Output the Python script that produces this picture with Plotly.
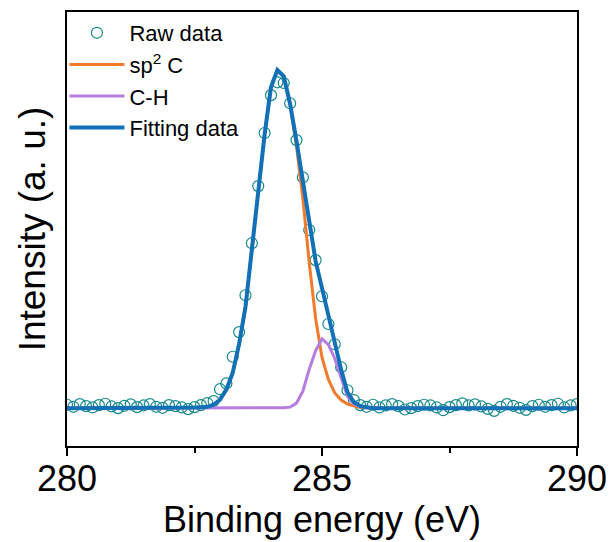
import numpy as np
import plotly.graph_objects as go

# Binding energy grid (eV), 0.125 eV step
energy = np.round(np.arange(280.0, 290.0001, 0.125), 3)

raw_data = [
    0.010, 0.004, 0.012, 0.006, 0.002, 0.009, 0.013, 0.005, 0.000, 0.007,
    0.011, 0.003, 0.008, 0.012, 0.004, 0.001, 0.009, 0.006, 0.002, -0.003,
    0.003, 0.009, 0.015, 0.021, 0.056, 0.073, 0.152, 0.225, 0.334, 0.488,
    0.657, 0.814, 0.926, 0.964, 0.962, 0.902, 0.793, 0.683, 0.527, 0.438,
    0.331, 0.249, 0.189, 0.121, 0.053, 0.024, 0.009, 0.004, 0.010, 0.002,
    0.008, 0.012, 0.006, -0.004, 0.000, 0.006, 0.010, 0.008, 0.002, -0.006,
    0.003, 0.009, 0.014, 0.008, 0.011, 0.005, -0.002, -0.008, 0.004, 0.012,
    0.007, 0.001, -0.005, 0.006, 0.010, 0.004, 0.009, 0.013, 0.002, 0.008,
    0.012,
]

sp2_c = [
    0, 0, 0, 0, 0, 0, 0, 0, 0, 0,
    0, 0, 0, 0, 0, 0, 0, 0, 0, 0,
    0.002, 0.003, 0.004, 0.010, 0.025, 0.055, 0.105, 0.190, 0.300, 0.470,
    0.650, 0.810, 0.950, 1.000, 0.981, 0.897, 0.775, 0.620, 0.430, 0.265,
    0.150, 0.085, 0.045, 0.024, 0.012, 0.006, 0.002, 0.001, 0, 0,
    0, 0, 0, 0, 0, 0, 0, 0, 0, 0,
    0, 0, 0, 0, 0, 0, 0, 0, 0, 0,
    0, 0, 0, 0, 0, 0, 0, 0, 0, 0,
    0,
]

c_h = [
    0, 0, 0, 0, 0, 0, 0, 0, 0, 0,
    0, 0, 0, 0, 0, 0, 0, 0, 0, 0,
    0, 0, 0, 0, 0, 0, 0, 0, 0, 0,
    0, 0, 0, 0, 0.001, 0.003, 0.015, 0.050, 0.115, 0.170,
    0.205, 0.188, 0.147, 0.090, 0.035, 0.012, 0.004, 0.001, 0, 0,
    0, 0, 0, 0, 0, 0, 0, 0, 0, 0,
    0, 0, 0, 0, 0, 0, 0, 0, 0, 0,
    0, 0, 0, 0, 0, 0, 0, 0, 0, 0,
    0,
]

fitting = [
    0, 0, 0, 0, 0, 0, 0, 0, 0, 0,
    0, 0, 0, 0, 0, 0, 0, 0, 0, 0,
    0.002, 0.003, 0.004, 0.010, 0.025, 0.055, 0.105, 0.190, 0.300, 0.470,
    0.650, 0.810, 0.950, 1.000, 0.982, 0.900, 0.790, 0.670, 0.545, 0.435,
    0.355, 0.273, 0.192, 0.114, 0.047, 0.018, 0.006, 0.002, 0, 0,
    0, 0, 0, 0, 0, 0, 0, 0, 0, 0,
    0, 0, 0, 0, 0, 0, 0, 0, 0, 0,
    0, 0, 0, 0, 0, 0, 0, 0, 0, 0,
    0,
]

x_ticks = [280, 285, 290]
x_minor = [282.5, 287.5]

FONT = "Arial, Liberation Sans, sans-serif"

fig = go.Figure()
fig.add_trace(go.Scatter(
    x=energy, y=raw_data, mode="markers", name="Raw data",
    marker=dict(symbol="circle-open", size=11, color="#16898b",
                line=dict(width=1.2, color="#16898b")),
))
fig.add_trace(go.Scatter(
    x=energy, y=sp2_c, mode="lines", name="sp<sup>2</sup> C",
    line=dict(color="#f27a2c", width=3),
))
fig.add_trace(go.Scatter(
    x=energy, y=c_h, mode="lines", name="C-H",
    line=dict(color="#b57de0", width=3),
))
fig.add_trace(go.Scatter(
    x=energy, y=fitting, mode="lines", name="Fitting data",
    line=dict(color="#1170b6", width=4),
))

fig.update_layout(
    width=614, height=542,
    margin=dict(l=67, r=37, t=12, b=96, autoexpand=False),
    paper_bgcolor="white", plot_bgcolor="white",
    font=dict(family=FONT, color="black"),
    showlegend=True,
    legend=dict(
        x=-0.005, y=1.0, xanchor="left", yanchor="top",
        bgcolor="rgba(0,0,0,0)", font=dict(size=22, family=FONT),
        itemwidth=55, tracegroupgap=0,
    ),
    xaxis=dict(
        range=[280, 290], tickvals=x_ticks, ticktext=[str(v) for v in x_ticks],
        ticks="outside", ticklen=8, tickwidth=2, tickcolor="black",
        minor=dict(tickvals=x_minor, ticks="outside", ticklen=5, tickwidth=2, tickcolor="black"),
        showline=True, linewidth=2, linecolor="black", mirror=True,
        showgrid=False, zeroline=False, automargin=False,
        tickfont=dict(size=36, family=FONT), ticklabelstandoff=-8,
        title=dict(text="Binding energy (eV)", font=dict(size=36, family=FONT), standoff=4),
    ),
    yaxis=dict(
        range=[-0.112, 1.172], showticklabels=False, ticks="",
        showline=True, linewidth=2, linecolor="black", mirror=True,
        showgrid=False, zeroline=False, automargin=False,
        title=dict(text="Intensity (a. u.)", font=dict(size=37, family=FONT), standoff=8),
    ),
)

fig.write_html("out.html")
